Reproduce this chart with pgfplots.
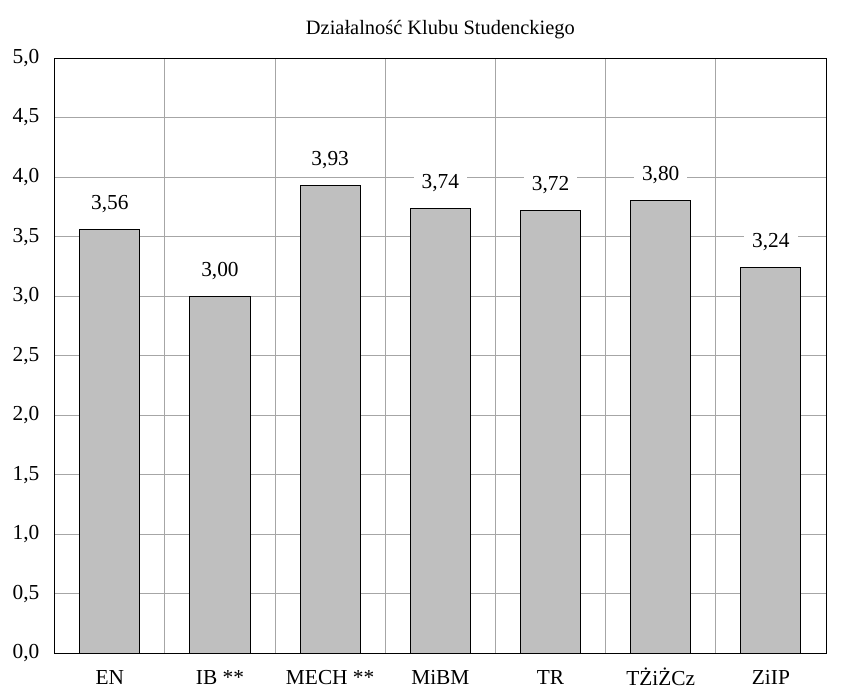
\documentclass[border=0pt]{standalone}
\usepackage{pgfplots}
\pgfplotsset{compat=1.18}
\usepackage{fontspec}
\setmainfont{Liberation Serif}

\begin{document}
\begin{tikzpicture}
\begin{axis}[
    name=ax,
    scale only axis,
    width=578pt, height=446pt,
    ymin=0, ymax=5,
    ytick={0,0.5,...,5},
    xmin=-0.5, xmax=6.5,
    xtick={0,...,6},
    xticklabels={EN, IB **, MECH **, MiBM, TR, TŻiŻCz, ZiIP},
    minor xtick={0.5,1.5,...,5.5},
    xminorgrids, ymajorgrids,
    grid style={draw=gray!70, line width=0.7pt},
    minor grid style={draw=gray!70, line width=0.7pt},
    major tick length=0pt, minor tick length=0pt,
    axis line style={black, line width=0.7pt},
    tick label style={font=\fontsize{16}{18}\selectfont},
    yticklabel={\pgfmathprintnumber[fixed, fixed zerofill, precision=1, use comma, assume math mode=true]{\tick}},
    yticklabel style={xshift=-8pt},
    xticklabel style={anchor=center, yshift=-18pt},
    title={Działalność Klubu Studenckiego},
    title style={font=\fontsize{15.3}{17}\selectfont, at={(0.5,1)}, anchor=center, yshift=15pt},
    nodes near coords={\pgfmathprintnumber[fixed, fixed zerofill, precision=2, use comma, assume math mode=true]{\pgfplotspointmeta}},
    nodes near coords style={font=\fontsize{16}{18}\selectfont, fill=white, inner xsep=6pt, inner ysep=3pt, anchor=center, yshift=19pt},
]
\addplot[ybar, bar width=0.545, fill=gray!50, draw=black, line width=0.7pt]
coordinates {(0,3.56) (1,3.00) (2,3.93) (3,3.74) (4,3.72) (5,3.80) (6,3.24)};
\end{axis}
\pgfresetboundingbox
\path[use as bounding box] ([xshift=-41pt,yshift=-29pt]ax.south west) rectangle ([xshift=15pt,yshift=43.5pt]ax.north east);
\end{tikzpicture}
\end{document}
